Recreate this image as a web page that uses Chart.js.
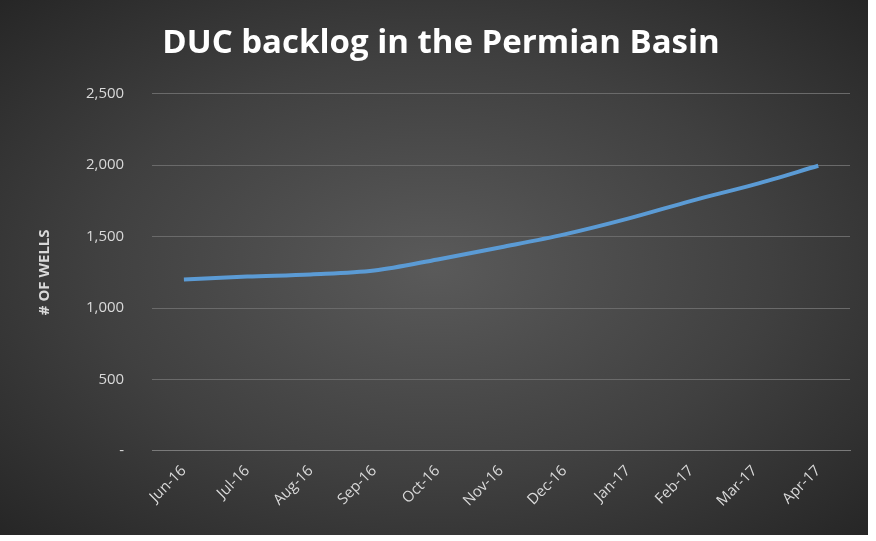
<!DOCTYPE html>
<html>
<head>
<script src="https://cdn.jsdelivr.net/npm/chart.js@4"></script>
<style>
  body { margin: 0; background: #fff; }
  #wrap {
    width: 868px; height: 535px; position: relative;
    background: radial-gradient(ellipse at center, #5a5a5a 0%, #404040 55%, #262626 100%);
  }
</style>
</head>
<body>
<div id="wrap"><canvas id="myChart"></canvas></div>
<script>
const months = ["Jun-16", "Jul-16", "Aug-16", "Sep-16", "Oct-16", "Nov-16", "Dec-16", "Jan-17", "Feb-17", "Mar-17", "Apr-17"];
const wells = [1200, 1220, 1235, 1262, 1340, 1425, 1515, 1625, 1750, 1865, 1995];

const ctx = document.getElementById("myChart").getContext("2d");
const myChart = new Chart(ctx, {
  type: "line",
  data: {
    labels: months,
    datasets: [
      {
        label: "DUC backlog",
        data: wells,
        borderColor: "#5b9bd5",
        borderWidth: 4,
        pointRadius: 0,
        cubicInterpolationMode: "monotone",
      },
    ],
  },
  options: {
    responsive: true,
    maintainAspectRatio: false,
    animation: false,
    layout: { padding: { left: 32, right: 18, top: 0, bottom: 22 } },
    plugins: {
      legend: { display: false },
      title: {
        display: true,
        text: "DUC backlog in the Permian Basin",
        color: "#ffffff",
        font: { family: "Open Sans", size: 33, weight: "bold" },
        padding: { top: 24, bottom: 30 },
      },
    },
    scales: {
      x: {
        offset: true,
        grid: { display: false },
        border: { color: "#7a7a7a" },
        ticks: {
          color: "#d9d9d9",
          font: { family: "Open Sans", size: 15 },
          maxRotation: 45,
          minRotation: 45,
        },
      },
      y: {
        min: 0,
        max: 2500,
        ticks: {
          stepSize: 500,
          color: "#d9d9d9",
          font: { family: "Open Sans", size: 15 },
          padding: 28,
          callback: (v) => (v === 0 ? "-" : v.toLocaleString("en-US")),
        },
        grid: { color: "#6a6a6a", drawTicks: false },
        border: { display: false },
        title: {
          display: true,
          text: "# OF WELLS",
          color: "#d9d9d9",
          font: { family: "Open Sans", size: 15, weight: "bold" },
        },
      },
    },
  },
});
</script>
</body>
</html>
